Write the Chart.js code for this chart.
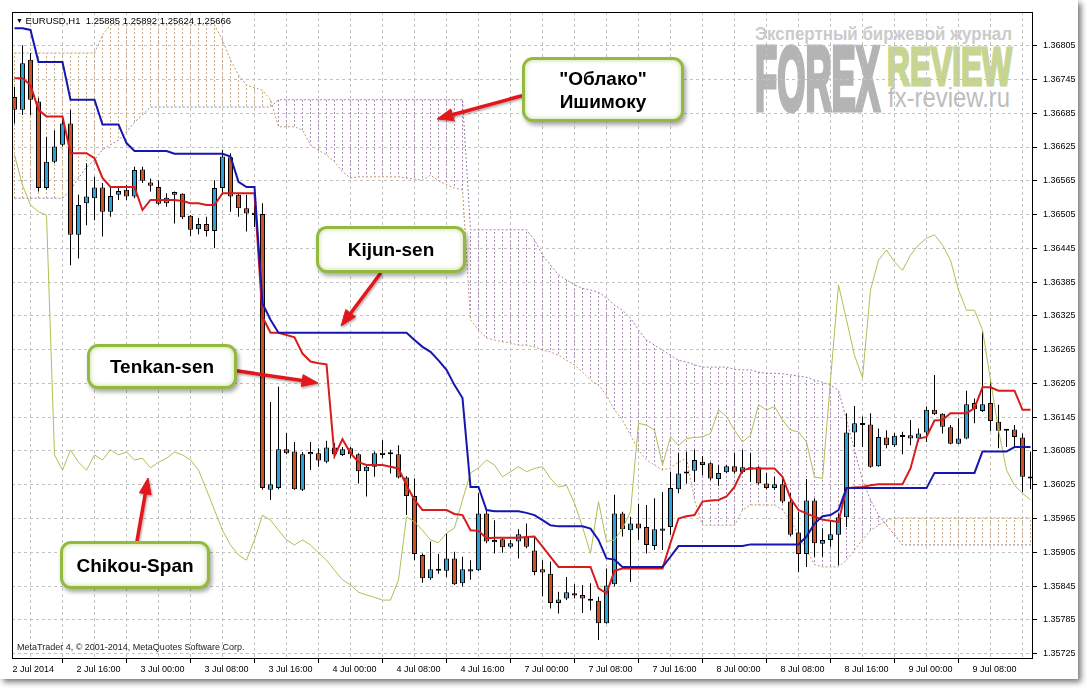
<!DOCTYPE html>
<html><head><meta charset="utf-8">
<script src="https://cdn.jsdelivr.net/npm/chart.js@4.4.1/dist/chart.umd.min.js"></script>
<style>
html,body{margin:0;padding:0;background:#fff;}
#stage{position:relative;width:1087px;height:688px;overflow:hidden;background:#fff;}
#panel{position:absolute;left:0;top:0;width:1078px;height:679px;background:#fff;box-shadow:3px 3px 6px rgba(0,0,0,0.55);}
.wm{position:absolute;white-space:nowrap;transform-origin:0 0;font-family:"Liberation Sans",Arial,sans-serif;line-height:1;}
#c{position:absolute;left:0;top:0;}
.txt{position:absolute;white-space:pre;font-family:"Liberation Sans",Arial,sans-serif;font-size:9.5px;color:#000;line-height:1;}
.call{position:absolute;box-sizing:border-box;background:#fff;border:3px solid #93ba3e;border-radius:11px;box-shadow:2px 3px 4px rgba(0,0,0,0.35), inset 0 0 5px rgba(147,186,62,0.55);display:flex;align-items:center;justify-content:center;text-align:center;font-family:"Liberation Sans",Arial,sans-serif;font-weight:bold;font-size:19px;color:#000;line-height:23px;}
#arrows{position:absolute;left:0;top:0;}
</style></head>
<body>
<div id="stage">
  <div id="panel"></div>
  <div class="wm" id="wm1" style="left:755px;top:25px;font-size:18px;font-weight:bold;color:#cbcbcb;">Экспертный биржевой журнал</div>
  <div class="wm" id="wm2" style="left:755px;top:33px;font-size:91px;font-weight:bold;color:#b4b4b4;-webkit-text-stroke:5px #b4b4b4;">FOREX</div>
  <div class="wm" id="wm3" style="left:887px;top:40px;font-size:53px;font-weight:bold;color:#c7d592;-webkit-text-stroke:3px #c7d592;">REVIEW</div>
  <div class="wm" id="wm4" style="left:888px;top:84px;font-size:28px;color:#bdbdbd;">fx-review.ru</div>
  <canvas id="c" width="1087" height="688"></canvas>
  <div class="txt" style="left:16px;top:16px;"><span style="font-size:7px;position:relative;top:-1px;">▼</span> EURUSD,H1  1.25885 1.25892 1.25624 1.25666</div>
  <div class="txt" style="left:17px;top:643px;font-size:9px;color:#222;">MetaTrader 4, © 2001-2014, MetaQuotes Software Corp.</div>
  <svg id="arrows" width="1087" height="688">
    <defs><filter id="sh" x="-20%" y="-20%" width="140%" height="140%"><feDropShadow dx="1" dy="1.5" stdDeviation="1" flood-opacity="0.35"/></filter></defs>
    <g fill="#e3161c" stroke="#e3161c" filter="url(#sh)">
      <line x1="521" y1="96" x2="452.4" y2="114.8" stroke-width="3.5" stroke-linecap="round"/>
      <polygon points="437,119 450.8,109.0 454.0,120.6" stroke-width="1"/>
      <line x1="380" y1="274" x2="350.6" y2="313.2" stroke-width="3.5" stroke-linecap="round"/>
      <polygon points="341,326 345.8,309.6 355.4,316.8" stroke-width="1"/>
      <line x1="238" y1="371" x2="302.2" y2="380.6" stroke-width="3.5" stroke-linecap="round"/>
      <polygon points="318,383 301.3,386.5 303.1,374.7" stroke-width="1"/>
      <line x1="137" y1="541" x2="145.3" y2="493.8" stroke-width="3.5" stroke-linecap="round"/>
      <polygon points="148,478 151.2,494.8 139.4,492.8" stroke-width="1"/>
    </g>
  </svg>
  <div class="call" style="left:522px;top:57px;width:162px;height:65px;">"Облако"<br>Ишимоку</div>
  <div class="call" style="left:316px;top:226px;width:150px;height:47px;">Kijun-sen</div>
  <div class="call" style="left:87px;top:344px;width:150px;height:45px;">Tenkan-sen</div>
  <div class="call" style="left:60px;top:541px;width:150px;height:48px;">Chikou-Span</div>
</div>
<script>
// ---- data (EURUSD H1, one value per bar) ----
const timeLabels = ["2 Jul 2014","2 Jul 16:00","3 Jul 00:00","3 Jul 08:00","3 Jul 16:00","4 Jul 00:00","4 Jul 08:00","4 Jul 16:00","7 Jul 00:00","7 Jul 08:00","7 Jul 16:00","8 Jul 00:00","8 Jul 08:00","8 Jul 16:00","9 Jul 00:00","9 Jul 08:00"];
const priceTicks = [1.35725,1.35785,1.35845,1.35905,1.35965,1.36025,1.36085,1.36145,1.36205,1.36265,1.36325,1.36385,1.36445,1.36505,1.36565,1.36625,1.36685,1.36745,1.36805];

const open = [1.36714,1.36691,1.36780,1.36706,1.36552,1.36599,1.36629,1.36667,1.36469,1.36525,
 1.36534,1.36553,1.36510,1.36540,1.36549,1.36537,1.36585,1.36562,1.36554,1.36525,
 1.36540,1.36542,1.36503,1.36479,1.36488,1.36476,1.36552,1.36607,1.36540,1.36516,
 1.36508,1.36506,1.36016,1.36019,1.36088,1.36084,1.36016,1.36079,1.36081,1.36066,
 1.36091,1.36078,1.36090,1.36079,1.36049,1.36057,1.36082,1.36081,1.36079,1.36038,
 1.36005,1.35900,1.35859,1.35875,1.35872,1.35894,1.35850,1.35871,1.35873,1.35974,
 1.35927,1.35928,1.35915,1.35924,1.35933,1.35908,1.35875,1.35867,1.35815,1.35823,
 1.35832,1.35829,1.35821,1.35819,1.35779,1.35848,1.35974,1.35944,1.35956,1.35950,
 1.35916,1.35943,1.35950,1.36017,1.36045,1.36050,1.36066,1.36063,1.36035,1.36047,
 1.36058,1.36047,1.36056,1.36056,1.36027,1.36019,1.36026,1.35995,1.35940,1.35902,
 1.35997,1.35920,1.35927,1.35936,1.35967,1.36118,1.36131,1.36132,1.36058,1.36109,
 1.36095,1.36111,1.36113,1.36107,1.36118,1.36158,1.36151,1.36127,1.36098,1.36107,
 1.36170,1.36156,1.36170,1.36137,1.36122,1.36123,1.36109,1.36038];
const high = [1.36732,1.36806,1.36792,1.36712,1.36643,1.36655,1.36676,1.36691,1.36540,1.36596,
 1.36572,1.36561,1.36552,1.36554,1.36558,1.36590,1.36590,1.36569,1.36566,1.36543,
 1.36546,1.36543,1.36504,1.36499,1.36501,1.36566,1.36620,1.36614,1.36543,1.36540,
 1.36522,1.36525,1.36172,1.36199,1.36117,1.36101,1.36083,1.36101,1.36090,1.36103,
 1.36099,1.36092,1.36092,1.36081,1.36060,1.36084,1.36104,1.36087,1.36095,1.36040,
 1.36036,1.35903,1.35924,1.35902,1.35939,1.35906,1.35897,1.35891,1.36010,1.35980,
 1.35962,1.35930,1.35927,1.35946,1.35956,1.35933,1.35891,1.35888,1.35835,1.35861,
 1.35848,1.35847,1.35850,1.35826,1.35876,1.36007,1.35977,1.35968,1.35991,1.35989,
 1.36001,1.36012,1.36048,1.36081,1.36084,1.36087,1.36076,1.36065,1.36060,1.36060,
 1.36081,1.36087,1.36081,1.36058,1.36046,1.36039,1.36035,1.36010,1.35977,1.36035,
 1.36001,1.35947,1.35962,1.35974,1.36152,1.36165,1.36146,1.36152,1.36125,1.36122,
 1.36117,1.36119,1.36140,1.36125,1.36164,1.36220,1.36152,1.36131,1.36143,1.36192,
 1.36178,1.36297,1.36212,1.36167,1.36123,1.36131,1.36116,1.36084];
const low = [1.36667,1.36682,1.36682,1.36546,1.36549,1.36596,1.36626,1.36415,1.36427,1.36486,
 1.36495,1.36466,1.36501,1.36531,1.36531,1.36534,1.36561,1.36546,1.36522,1.36519,
 1.36489,1.36497,1.36467,1.36470,1.36466,1.36445,1.36540,1.36510,1.36501,1.36475,
 1.36483,1.36016,1.35998,1.36017,1.36079,1.36016,1.36014,1.36051,1.36057,1.36063,
 1.36072,1.36076,1.36072,1.36027,1.36004,1.36039,1.36072,1.36045,1.36036,1.35971,
 1.35891,1.35851,1.35856,1.35867,1.35861,1.35847,1.35844,1.35856,1.35872,1.35921,
 1.35903,1.35904,1.35912,1.35894,1.35912,1.35864,1.35827,1.35805,1.35796,1.35820,
 1.35823,1.35797,1.35802,1.35749,1.35778,1.35844,1.35933,1.35852,1.35927,1.35903,
 1.35909,1.35909,1.35936,1.36010,1.36027,1.36030,1.36042,1.36033,1.36023,1.36046,
 1.36045,1.36045,1.36030,1.36026,1.36017,1.36016,1.35992,1.35933,1.35870,1.35879,
 1.35897,1.35897,1.35915,1.35882,1.35950,1.36092,1.36092,1.36055,1.36057,1.36090,
 1.36092,1.36079,1.36095,1.36101,1.36101,1.36149,1.36116,1.36097,1.36097,1.36106,
 1.36134,1.36154,1.36120,1.36090,1.36092,1.36092,1.36012,1.36017];
const close = [1.36691,1.36774,1.36709,1.36552,1.36599,1.36626,1.36667,1.36469,1.36522,1.36537,
 1.36553,1.36510,1.36538,1.36547,1.36537,1.36584,1.36565,1.36556,1.36524,1.36535,
 1.36545,1.36500,1.36478,1.36488,1.36476,1.36552,1.36608,1.36537,1.36516,1.36507,
 1.36504,1.36019,1.36026,1.36088,1.36081,1.36017,1.36079,1.36083,1.36068,1.36091,
 1.36079,1.36088,1.36079,1.36049,1.36057,1.36081,1.36078,1.36079,1.36038,1.36005,
 1.35902,1.35859,1.35875,1.35872,1.35894,1.35848,1.35875,1.35875,1.35974,1.35924,
 1.35923,1.35914,1.35921,1.35937,1.35915,1.35870,1.35869,1.35815,1.35821,1.35834,
 1.35828,1.35823,1.35819,1.35779,1.35846,1.35974,1.35946,1.35956,1.35947,1.35918,
 1.35946,1.35947,1.36019,1.36045,1.36048,1.36069,1.36060,1.36036,1.36046,1.36058,
 1.36048,1.36056,1.36052,1.36027,1.36019,1.36026,1.35995,1.35936,1.35902,1.35997,
 1.35921,1.35927,1.35937,1.35967,1.36118,1.36134,1.36133,1.36057,1.36110,1.36095,
 1.36112,1.36110,1.36107,1.36116,1.36158,1.36150,1.36128,1.36098,1.36107,1.36168,
 1.36159,1.36168,1.36138,1.36121,1.36121,1.36110,1.36039,1.36036];
const tenkan = [1.36747,1.36747,1.36735,1.36691,1.36679,1.36679,1.36679,1.36614,1.36614,1.36614,
 1.36605,1.36570,1.36554,1.36554,1.36554,1.36554,1.36513,1.36531,1.36531,1.36531,
 1.36531,1.36529,1.36525,1.36525,1.36522,1.36522,1.36543,1.36543,1.36543,1.36543,
 1.36543,1.36323,1.36295,1.36295,1.36291,1.36287,1.36258,1.36244,1.36241,1.36239,
 1.36076,1.36106,1.36081,1.36065,1.36060,1.36060,1.36060,1.36057,1.36054,1.36024,
 1.35998,1.35980,1.35980,1.35980,1.35980,1.35973,1.35971,1.35944,1.35943,1.35930,
 1.35931,1.35931,1.35931,1.35931,1.35932,1.35933,1.35915,1.35897,1.35879,1.35879,
 1.35879,1.35879,1.35879,1.35841,1.35832,1.35872,1.35876,1.35876,1.35876,1.35876,
 1.35876,1.35876,1.35922,1.35965,1.35969,1.35971,1.35995,1.35997,1.35998,1.36004,
 1.36021,1.36051,1.36054,1.36054,1.36054,1.36054,1.36039,1.36001,1.35980,1.35974,
 1.35968,1.35963,1.35961,1.35959,1.36019,1.36020,1.36021,1.36024,1.36026,1.36026,
 1.36026,1.36026,1.36054,1.36107,1.36110,1.36139,1.36140,1.36152,1.36152,1.36152,
 1.36161,1.36198,1.36198,1.36192,1.36192,1.36192,1.36158,1.36158];
const kijun = [1.36836,1.36836,1.36833,1.36776,1.36776,1.36776,1.36776,1.36709,1.36709,1.36709,
 1.36709,1.36665,1.36665,1.36665,1.36632,1.36618,1.36618,1.36618,1.36618,1.36618,
 1.36613,1.36613,1.36613,1.36613,1.36613,1.36613,1.36613,1.36608,1.36563,1.36554,
 1.36554,1.36347,1.36318,1.36295,1.36295,1.36295,1.36295,1.36295,1.36295,1.36295,
 1.36295,1.36295,1.36295,1.36295,1.36295,1.36295,1.36295,1.36295,1.36295,1.36295,
 1.36282,1.36270,1.36261,1.36246,1.36229,1.36202,1.36179,1.36021,1.36021,1.35980,
 1.35978,1.35978,1.35978,1.35978,1.35975,1.35971,1.35962,1.35953,1.35951,1.35951,
 1.35951,1.35951,1.35947,1.35927,1.35894,1.35892,1.35879,1.35879,1.35879,1.35879,
 1.35879,1.35879,1.35897,1.35916,1.35916,1.35916,1.35916,1.35916,1.35916,1.35916,
 1.35916,1.35916,1.35919,1.35919,1.35919,1.35919,1.35919,1.35919,1.35919,1.35933,
 1.35956,1.35969,1.35971,1.35980,1.36019,1.36019,1.36019,1.36019,1.36019,1.36019,
 1.36019,1.36019,1.36019,1.36019,1.36019,1.36046,1.36046,1.36046,1.36046,1.36046,
 1.36046,1.36084,1.36084,1.36084,1.36084,1.36092,1.36092,1.36092];
const chikou = [1.36611,1.36557,1.36522,1.36510,1.36504,1.36078,1.36051,1.36087,1.36065,1.36051,
 1.36078,1.36069,1.36087,1.36078,1.36083,1.36069,1.36072,1.36055,1.36065,1.36072,
 1.36083,1.36078,1.36069,1.36051,1.36016,1.35980,1.35944,1.35918,1.35900,1.35891,
 1.35927,1.35971,1.35962,1.35944,1.35927,1.35918,1.35927,1.35918,1.35904,1.35891,
 1.35873,1.35856,1.35847,1.35834,1.35829,1.35825,1.35820,1.35820,1.35856,1.35968,
 1.35959,1.35944,1.35927,1.35922,1.35939,1.35948,1.35998,1.36046,1.36055,1.36069,
 1.36060,1.36039,1.36048,1.36057,1.36048,1.36054,1.36057,1.36036,1.36021,1.36024,
 1.35992,1.35950,1.35903,1.35995,1.35924,1.35927,1.35947,1.35977,1.36134,1.36131,
 1.36122,1.36060,1.36110,1.36095,1.36107,1.36109,1.36110,1.36116,1.36158,1.36146,
 1.36122,1.36101,1.36113,1.36167,1.36158,1.36164,1.36140,1.36122,1.36119,1.36101,
 1.36039,1.36036,1.36211,1.36380,1.36318,1.36255,1.36215,1.36371,1.36424,1.36442,
 1.36421,1.36406,1.36433,1.36451,1.36463,1.36469,1.36451,1.36424,1.36371,1.36335,
 1.36335,1.36300,1.36211,1.36122,1.36051,1.36024,1.36010,1.35998];
const spanA = [1.36792,1.36792,1.36792,1.36792,1.36792,1.36792,1.36792,1.36792,1.36792,1.36792,
 1.36792,1.36824,1.36842,1.36842,1.36842,1.36842,1.36842,1.36842,1.36842,1.36842,
 1.36842,1.36842,1.36842,1.36842,1.36842,1.36842,1.36815,1.36780,1.36753,1.36735,
 1.36730,1.36726,1.36709,1.36661,1.36661,1.36661,1.36655,1.36629,1.36619,1.36611,
 1.36599,1.36581,1.36570,1.36572,1.36572,1.36572,1.36572,1.36572,1.36572,1.36570,
 1.36568,1.36566,1.36575,1.36565,1.36558,1.36552,1.36549,1.36318,1.36300,1.36286,
 1.36282,1.36279,1.36277,1.36273,1.36273,1.36270,1.36264,1.36261,1.36255,1.36246,
 1.36238,1.36225,1.36211,1.36202,1.36184,1.36158,1.36140,1.36113,1.36087,1.36069,
 1.36060,1.36051,1.36055,1.36065,1.36072,1.35998,1.35953,1.35953,1.35953,1.35953,
 1.35953,1.35980,1.35989,1.35989,1.35989,1.35989,1.35980,1.35962,1.35936,1.35909,
 1.35883,1.35879,1.35879,1.35879,1.35891,1.35909,1.35927,1.35944,1.35953,1.35962,
 1.35966,1.35966,1.35966,1.35966,1.35966,1.35966,1.35966,1.35966,1.35966,1.35966,
 1.35966,1.35966,1.35966,1.35966,1.35966,1.35966,1.35966,1.35966];
const spanB = [1.36534,1.36534,1.36534,1.36534,1.36534,1.36534,1.36534,1.36549,1.36570,1.36589,
 1.36602,1.36620,1.36629,1.36637,1.36652,1.36669,1.36682,1.36696,1.36696,1.36696,
 1.36696,1.36696,1.36696,1.36696,1.36696,1.36696,1.36696,1.36696,1.36696,1.36696,
 1.36696,1.36696,1.36696,1.36709,1.36709,1.36709,1.36709,1.36709,1.36709,1.36709,
 1.36709,1.36709,1.36709,1.36709,1.36709,1.36709,1.36709,1.36709,1.36709,1.36709,
 1.36709,1.36709,1.36709,1.36709,1.36709,1.36709,1.36709,1.36478,1.36478,1.36478,
 1.36478,1.36478,1.36478,1.36478,1.36478,1.36460,1.36433,1.36415,1.36398,1.36389,
 1.36380,1.36374,1.36371,1.36367,1.36357,1.36344,1.36335,1.36321,1.36300,1.36282,
 1.36273,1.36264,1.36255,1.36246,1.36243,1.36238,1.36234,1.36234,1.36234,1.36234,
 1.36230,1.36229,1.36229,1.36225,1.36223,1.36223,1.36222,1.36220,1.36218,1.36216,
 1.36211,1.36207,1.36202,1.36193,1.36140,1.36087,1.36033,1.35998,1.35971,1.35953,
 1.35936,1.35918,1.35918,1.35918,1.35918,1.35918,1.35918,1.35918,1.35918,1.35918,
 1.35918,1.35918,1.35918,1.35918,1.35918,1.35918,1.35918,1.35918];

// ---- styling ----
const BULL = '#2fa1d6', BEAR = '#cf5126';
const TAN = '#cdae85', PURPLE = '#ad8fb9';

function hatch(color){
  const pc = document.createElement('canvas'); pc.width = 1; pc.height = 4;
  const g = pc.getContext('2d'); g.fillStyle = color; g.fillRect(0,0,1,2);
  return g.createPattern(pc, 'repeat');
}
const tanPat = hatch(TAN), purPat = hatch(PURPLE);

const idx = close.map((_, i) => i);
const pts = arr => arr.map((v, i) => ({x: i, y: v}));

const frame = { id:'frame', afterDraw(chart){
  const {ctx, chartArea:a} = chart;
  ctx.save(); ctx.strokeStyle = '#000'; ctx.lineWidth = 1;
  ctx.strokeRect(a.left + 0.5, a.top + 0.5, a.right - a.left - 1, a.bottom - a.top - 1);
  ctx.restore();
}};

const FONT = {family:'"Liberation Sans", Arial, sans-serif', size:9};

new Chart(document.getElementById('c'), {
  type: 'bar',
  data: { datasets: [
    { type:'bar', data: idx.map(i => ({x:i, y:[spanA[i], spanB[i]]})), grouped:false, barThickness:1, inflateAmount:0, borderWidth:0,
      backgroundColor: c => spanA[c.dataIndex] >= spanB[c.dataIndex] ? tanPat : purPat, order:100 },
    { type:'line', data: pts(spanA), borderColor: '#bf9a6c', borderWidth:1, borderDash:[2,2], pointRadius:0, tension:0, order:90 },
    { type:'line', data: pts(spanB), borderColor: '#9d7eab', borderWidth:1, borderDash:[2,2], pointRadius:0, tension:0, order:89 },
    { type:'bar', data: idx.map(i => ({x:i, y:[low[i], high[i]]})), grouped:false, barThickness:1, inflateAmount:0, borderWidth:0, backgroundColor:'#000', order:40 },
    { type:'bar', data: idx.map(i => ({x:i, y:[open[i], close[i]]})), grouped:false, barThickness:5, inflateAmount:0, minBarLength:2,
      backgroundColor: idx.map(i => close[i] >= open[i] ? BULL : BEAR), borderColor:'#000', borderWidth:1, borderSkipped:false, order:30 },
    { type:'line', data: pts(chikou), borderColor:'#aebf52', borderWidth:1, pointRadius:0, tension:0, order:25 },
    { type:'line', data: pts(tenkan), borderColor:'#d81b1b', borderWidth:2, pointRadius:0, tension:0, order:20 },
    { type:'line', data: pts(kijun), borderColor:'#1515b0', borderWidth:2, pointRadius:0, tension:0, order:10 }
  ]},
  options: {
    responsive:false, animation:false, devicePixelRatio:1, events:[],
    layout:{ padding:{ left:12, top:12, right:0, bottom:0 } },
    plugins:{ legend:{display:false}, tooltip:{enabled:false} },
    scales:{
      x:{ type:'linear', position:'bottom', min:-0.3125, max:127.3125, offset:false,
        afterBuildTicks: s => { s.ticks = idx.filter(i => i % 4 === 0).map(v => ({value:v})); },
        afterFit: s => { s.height = 29; },
        grid:{ color:'#c2c2c2', lineWidth:1, tickLength:4, tickBorderDash:[],
          tickColor: c => (c.tick && c.tick.value % 8 === 0) ? '#000' : 'rgba(0,0,0,0)' },
        border:{ display:false, dash:[3,3] },
        ticks:{ autoSkip:false, maxRotation:0, minRotation:0, align:'start', labelOffset:-2, padding:1, color:'#000', font:FONT,
          callback: v => (v % 8 === 0 && timeLabels[v/8] !== undefined) ? timeLabels[v/8] : '' }
      },
      y:{ type:'linear', position:'right', min:1.3571536, max:1.3686488,
        afterBuildTicks: s => { s.ticks = priceTicks.map(v => ({value:v})); },
        afterFit: s => { s.width = 54; },
        grid:{ color:'#c2c2c2', lineWidth:1, tickLength:4, tickColor:'#000', tickBorderDash:[] },
        border:{ display:false, dash:[3,3] },
        ticks:{ padding:6, color:'#000', font:FONT, callback: v => Number(v).toFixed(5) }
      }
    }
  },
  plugins:[frame]
});

// fit watermark text widths
function fitW(id, w){ const el = document.getElementById(id); const r = el.getBoundingClientRect().width; el.style.transform = 'scaleX(' + (w / r) + ')'; }
fitW('wm1', 257); fitW('wm2', 125); fitW('wm3', 125); fitW('wm4', 122);
</script>
</body></html>
